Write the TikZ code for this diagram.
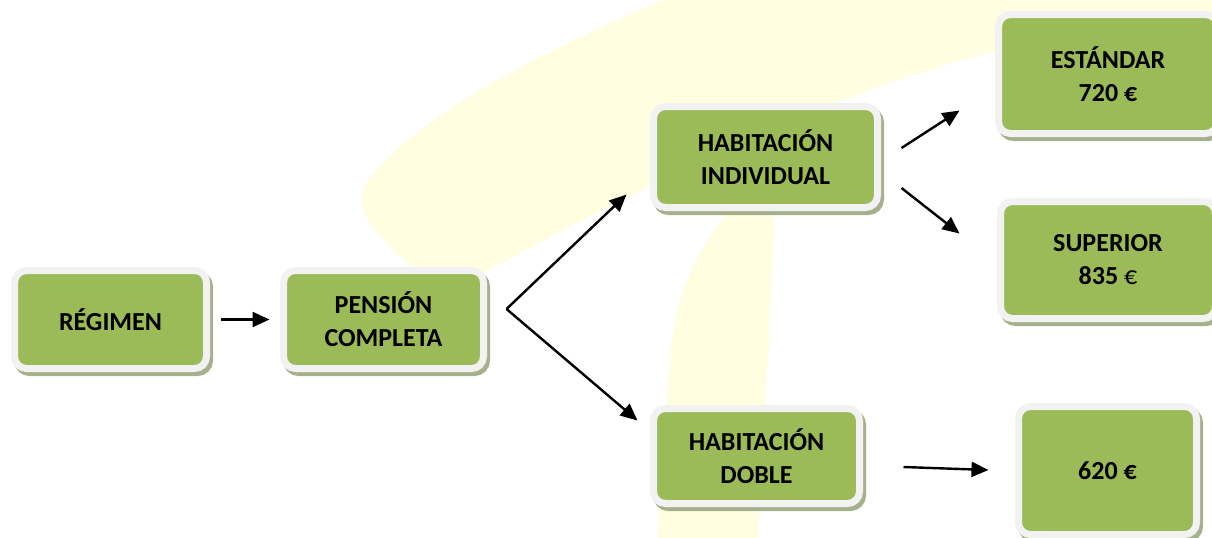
\documentclass[tikz,border=0pt]{standalone}
\usepackage{fontspec}
\setmainfont{Carlito}
\usetikzlibrary{arrows.meta}
\definecolor{boxgreen}{HTML}{9BBB59}
\definecolor{boxframe}{HTML}{F2F2F2}
\definecolor{boxshade}{HTML}{A7B08C}
\definecolor{watermark}{HTML}{FFFEE0}
\begin{document}
\begin{tikzpicture}[x=0.5pt, y=-0.5pt,
		box/.style={rectangle, rounded corners=6pt, fill=boxgreen, draw=boxframe, line width=3.5pt, inner sep=0pt, align=center, font=\bfseries\fontsize{13}{16.5}\selectfont, preaction={fill=boxshade, draw=boxshade, line width=3.5pt, transform canvas={shift={(1.5pt,-2pt)}}}},
		link/.style={-{Triangle[length=8.5pt, width=7.5pt]}, line width=1.2pt}]
		\useasboundingbox (0,0) rectangle (1212,537);
		\clip (0,0) rectangle (1212,537);
		\fill[white] (0,0) rectangle (1212,537);
		\fill[watermark] (663,0) .. controls (520,60) and (400,130) .. (365,185) .. controls (350,215) and (390,250) .. (440,290) -- (470,280) .. controls (600,210) and (800,100) .. (1000,50) .. controls (1100,28) and (1180,18) .. (1212,15) -- (1212,0) -- cycle;
		\fill[watermark] (745,195) .. controls (700,240) and (675,290) .. (670,360) -- (657,540) -- (758,540) -- (765,405) -- (769,342) -- (775,195) -- cycle;
		\node[box, minimum width=96pt, minimum height=49pt] (regimen) at (110.5,319.5) {RÉGIMEN};
		\node[box, minimum width=100pt, minimum height=49pt] (pension) at (383.5,319.5) {PENSIÓN\\COMPLETA};
		\node[box, minimum width=112pt, minimum height=50.5pt] (indiv) at (765.5,157) {HABITACIÓN\\INDIVIDUAL};
		\node[box, minimum width=103pt, minimum height=47.5pt] (doble) at (756.5,456) {HABITACIÓN\\DOBLE};
		\node[box, minimum width=109.5pt, minimum height=59.5pt] (estandar) at (1108,74) {ESTÁNDAR\\720 €};
		\node[box, minimum width=107.5pt, minimum height=58.5pt] (superior) at (1108,260) {SUPERIOR\\835 {\mdseries €}};
		\node[box, minimum width=89pt, minimum height=64pt] (p620) at (1107.5,470.5) {620 €};
		\coordinate (fork) at ([shift={(19.5,-10.5)}]pension.east);
		\draw[link, shorten <=5.25pt, shorten >=5.25pt] (regimen) -- (pension);
		\draw[link] (fork) -- ([shift={(-23.5,-16.5)}]indiv.south west);
		\draw[link] (fork) -- ([shift={(-12.5,15.5)}]doble.north west);
		\draw[link] ([shift={(20.5,-9)}]indiv.east) -- ([shift={(-35.5,-26.5)}]estandar.south west);
		\draw[link] ([shift={(20.5,31)}]indiv.east) -- ([shift={(-37.5,35.5)}]superior.north west);
		\draw[link] ([shift={(40.5,11)}]doble.east) -- ([shift={(-26.5,-0.5)}]p620.west);
	\end{tikzpicture}
\end{document}
